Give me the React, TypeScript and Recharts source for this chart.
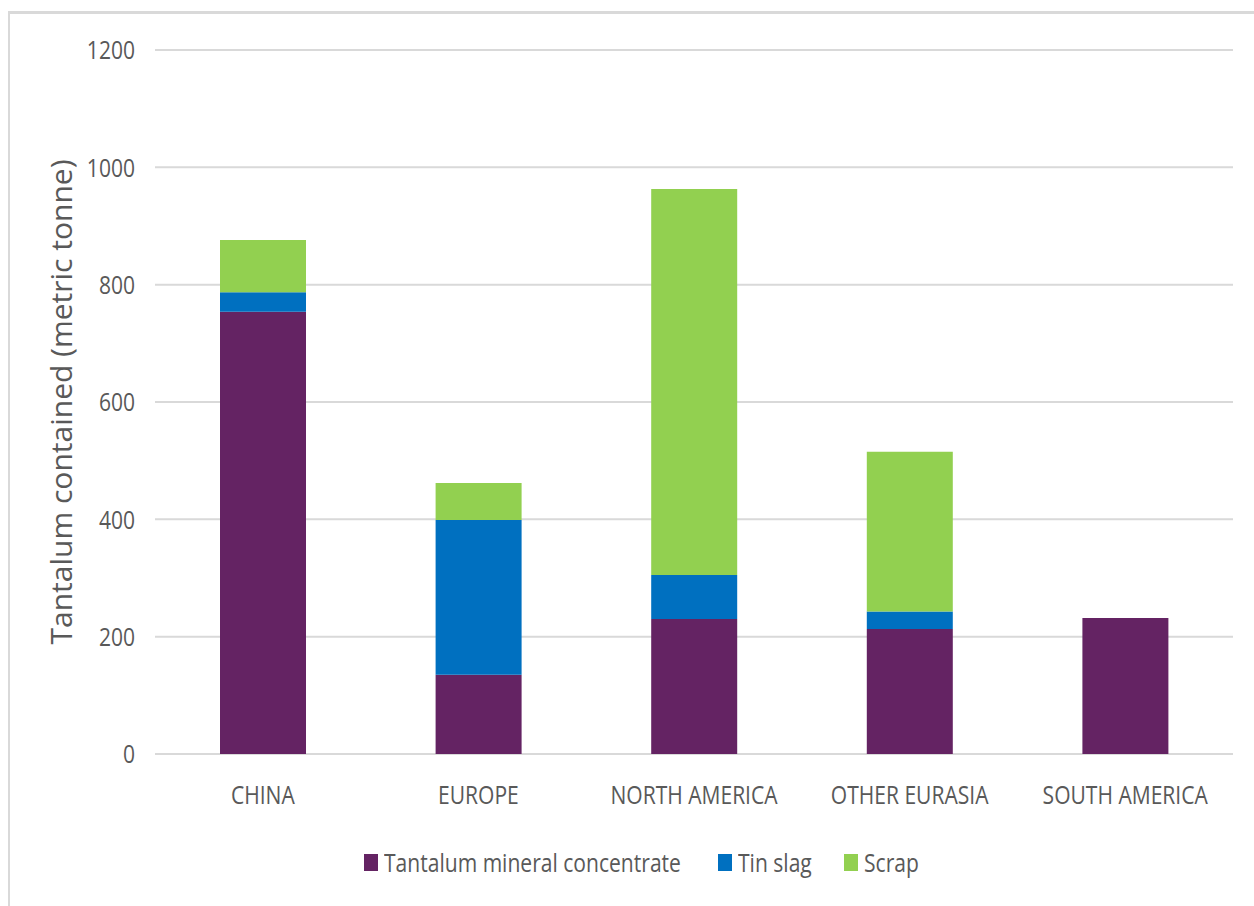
import React from 'react';
import { BarChart, Bar, XAxis, YAxis, CartesianGrid } from 'recharts';

// Tantalum supply by region, stacked by source
const categories = ['CHINA', 'EUROPE', 'NORTH AMERICA', 'OTHER EURASIA', 'SOUTH AMERICA'];
const mineralConcentrate = [754, 135, 230, 213, 232];
const tinSlag = [33, 264, 75, 30, 0];
const scrap = [89, 63, 658, 272, 0];
const yTicks = [0, 200, 400, 600, 800, 1000, 1200];

const seriesNames = ['Tantalum mineral concentrate', 'Tin slag', 'Scrap'];
const seriesKeys = ['concentrate', 'slag', 'scrap'];
const seriesColors = ['#642363', '#0070C0', '#92D050'];

const data = categories.map((region, i) => ({
  region,
  concentrate: mineralConcentrate[i],
  slag: tinSlag[i],
  scrap: scrap[i],
}));

const FONT = '"Open Sans", "Noto Sans", sans-serif';
const TEXT = '#595959';
const SQUEEZE = 0.81;

const YTick = (props: any) => {
  const { x, y, payload } = props;
  return (
    <text
      transform={`translate(${x},${y}) scale(${SQUEEZE},1)`}
      textAnchor="end"
      dy="0.36em"
      fontFamily={FONT}
      fontSize={26}
      fill={TEXT}
    >
      {payload.value}
    </text>
  );
};

const XTick = (props: any) => {
  const { x, y, payload } = props;
  return (
    <text
      transform={`translate(${x},${y}) scale(${SQUEEZE},1)`}
      textAnchor="middle"
      dy="0.71em"
      fontFamily={FONT}
      fontSize={26}
      fill={TEXT}
    >
      {payload.value}
    </text>
  );
};

const legendOffsets = [364, 718, 844];

export default function App() {
  return (
    <div style={{ position: 'absolute', left: 0, top: 0, width: 1254, height: 906, background: '#fff', overflow: 'hidden' }}>
      <div
        style={{
          position: 'absolute',
          left: 8,
          top: 11,
          width: 1300,
          height: 1000,
          borderLeft: '2px solid #d9d9d9',
          borderTop: '3px solid #d9d9d9',
        }}
      />
      <div style={{ position: 'absolute', left: 0, top: 0 }}>
        <BarChart
          width={1254}
          height={906}
          data={data}
          margin={{ top: 50, right: 21, bottom: 92, left: 75 }}
        >
          <CartesianGrid vertical={false} stroke="#d9d9d9" strokeWidth={2} />
          <XAxis
            dataKey="region"
            axisLine={false}
            tickLine={false}
            height={60}
            tickMargin={26}
            tick={<XTick />}
            interval={0}
          />
          <YAxis
            domain={[0, 1200]}
            ticks={yTicks}
            axisLine={false}
            tickLine={false}
            width={80}
            tickMargin={14}
            tick={<YTick />}
            label={{
              value: 'Tantalum contained (metric tonne)',
              angle: -90,
              position: 'insideLeft',
              dx: -19,
              dy: 0,
              style: { textAnchor: 'middle', fontFamily: FONT, fontSize: 30, fill: TEXT },
            }}
          />
          {seriesKeys.map((k, i) => (
            <Bar
              key={k}
              dataKey={k}
              name={seriesNames[i]}
              stackId="a"
              fill={seriesColors[i]}
              barSize={86}
              isAnimationActive={false}
            />
          ))}
        </BarChart>
      </div>
      {seriesNames.map((name, i) => (
        <div
          key={name}
          style={{ position: 'absolute', left: legendOffsets[i], top: 850, height: 24, display: 'flex', alignItems: 'center', whiteSpace: 'nowrap' }}
        >
          <span style={{ display: 'inline-block', width: 14, height: 17, background: seriesColors[i], marginRight: 6 }} />
          <span
            style={{
              display: 'inline-block',
              fontFamily: FONT,
              fontSize: 26,
              color: TEXT,
              transform: `scale(${SQUEEZE},1)`,
              transformOrigin: 'left center',
              lineHeight: '24px',
            }}
          >
            {name}
          </span>
        </div>
      ))}
    </div>
  );
}
